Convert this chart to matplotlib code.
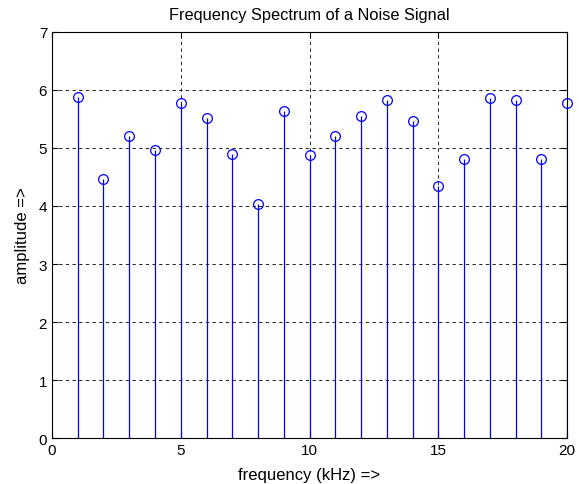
import numpy as np
import matplotlib
matplotlib.use('Agg')
import matplotlib.pyplot as plt

# Data
freq_khz  = [1, 2, 3, 4, 5, 6, 7, 8, 9, 10, 11, 12, 13, 14, 15, 16, 17, 18, 19, 20]
amplitude = [5.88, 4.46, 5.20, 4.97, 5.78, 5.51, 4.90, 4.03, 5.63, 4.88,
             5.21, 5.56, 5.83, 5.47, 4.35, 4.81, 5.86, 5.83, 4.81, 5.78]
x_ticks   = [0, 5, 10, 15, 20]
y_ticks   = [0, 1, 2, 3, 4, 5, 6, 7]

plt.rcParams['font.family'] = ['Liberation Sans', 'DejaVu Sans']

fig = plt.figure(figsize=(5.79, 4.85), dpi=100)
ax  = fig.add_axes([0.0898, 0.0948, 0.8895, 0.8372])

ax.set_axisbelow(True)
ax.grid(True, color='black', linestyle=(0, (4, 4)), linewidth=0.6)

markerline, stemlines, baseline = ax.stem(freq_khz, amplitude, linefmt='b-', markerfmt='o', basefmt=' ')
plt.setp(stemlines, linewidth=0.9, color='blue')
plt.setp(markerline, markerfacecolor='none', markeredgecolor='blue', markersize=7,
         markeredgewidth=0.9, clip_on=False, zorder=5)

ax.set_xlim(0, 20)
ax.set_ylim(0, 7)
ax.set_xticks(x_ticks)
ax.set_yticks(y_ticks)
ax.tick_params(direction='in', labelsize=11, length=4, top=True, right=True)
for s in ax.spines.values():
    s.set_linewidth(0.8)

ax.set_title('Frequency Spectrum of a Noise Signal', fontsize=11.8, pad=9)
ax.set_xlabel('frequency (kHz) =>', fontsize=12, labelpad=7)
ax.set_ylabel('amplitude =>', fontsize=12, labelpad=6)

plt.savefig('out.png', dpi=100)
